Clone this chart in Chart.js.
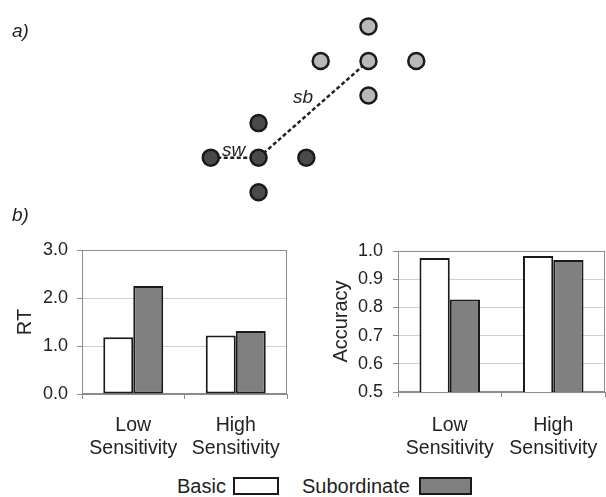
<!DOCTYPE html>
<html>
<head>
<meta charset="utf-8">
<script src="https://cdn.jsdelivr.net/npm/chart.js@4.4.0/dist/chart.umd.min.js"></script>
<style>
  body { margin: 0; background: #fff; width: 606px; height: 497px; position: relative; overflow: hidden;
         font-family: "Liberation Sans", Arial, sans-serif; color: #222; }
  canvas { position: absolute; }
  .lbl { position: absolute; font-style: italic; font-size: 19px; line-height: 19px; white-space: nowrap; }
  .leg { position: absolute; font-size: 20px; line-height: 20px; white-space: nowrap; }
  .box { position: absolute; box-sizing: border-box; border: 2px solid #1a1a1a; height: 18px; top: 477px; }
</style>
</head>
<body>
<canvas id="dots" width="606" height="230" style="left:0;top:0"></canvas>
<canvas id="rtChart" width="300" height="240" style="left:0;top:230px"></canvas>
<canvas id="accChart" width="306" height="240" style="left:300px;top:230px"></canvas>

<div class="lbl" style="left:12px;top:21px">a)</div>
<div class="lbl" style="left:12px;top:205px">b)</div>
<div class="lbl" style="left:222px;top:140px">sw</div>
<div class="lbl" style="left:293px;top:87px">sb</div>

<div class="leg" style="left:177px;top:476px">Basic</div>
<div class="box" style="left:233px;width:46px;background:#fff"></div>
<div class="leg" style="left:302px;top:476px">Subordinate</div>
<div class="box" style="left:419px;width:53px;background:#808080"></div>

<script>
// panel a) - stimulus layout (units = dot spacing)
const darkX = [0, -1, 0, 1, 0];
const darkY = [1, 0, 0, 0, -1];
const lightX = [2.3, 1.3, 2.3, 3.3, 2.3];
const lightY = [3.8, 2.8, 2.8, 2.8, 1.8];
const swX = [-1, 0], swY = [0, 0];
const sbX = [0, 2.3], sbY = [0, 2.8];

// panel b) - bar data
const categories = [['Low', 'Sensitivity'], ['High', 'Sensitivity']];
const rtBasic = [1.18, 1.22];
const rtSub = [2.25, 1.31];
const accBasic = [0.975, 0.982];
const accSub = [0.828, 0.968];

Chart.defaults.font.family = '"Liberation Sans", Arial, sans-serif';
Chart.defaults.color = '#222';

function pairs(xs, ys) {
    return xs.map((x, i) => ({ x: x, y: ys[i] }));
}

const dotStyle = { borderColor: '#1a1a1a', borderWidth: 2.5, pointRadius: 8, showLine: false, order: 1 };
const dashStyle = { borderColor: '#222', borderWidth: 2.5, borderDash: [4, 2.5], pointRadius: 0, showLine: true, order: 2 };

new Chart(document.getElementById('dots'), {
    type: 'scatter',
    data: {
        datasets: [
            Object.assign({ data: pairs(swX, swY) }, dashStyle),
            Object.assign({ data: pairs(sbX, sbY) }, dashStyle),
            Object.assign({ data: pairs(lightX, lightY), backgroundColor: '#b8b8b8' }, dotStyle),
            Object.assign({ data: pairs(darkX, darkY), backgroundColor: '#4a4a4a' }, dotStyle)
        ]
    },
    options: {
        responsive: false,
        animation: false,
        layout: { padding: 0 },
        plugins: { legend: { display: false }, tooltip: { enabled: false } },
        scales: {
            x: { type: 'linear', display: false, min: -5.19, max: 7.05 },
            y: { type: 'linear', display: false, min: -1.79, max: 4.26 }
        }
    }
});

// grey frame round the plot area
const framePlugin = {
    id: 'frame',
    beforeDatasetsDraw(chart) {
        const { ctx, chartArea: a } = chart;
        ctx.save();
        ctx.strokeStyle = '#8c8c8c';
        ctx.lineWidth = 1;
        ctx.strokeRect(a.left + 0.5, a.top + 0.5, a.width - 1, a.height - 1);
        ctx.restore();
    }
};

function barChart(id, basic, sub, o) {
    return new Chart(document.getElementById(id), {
        type: 'bar',
        data: {
            labels: categories,
            datasets: [
                { label: 'Basic', data: basic, backgroundColor: '#ffffff' },
                { label: 'Subordinate', data: sub, backgroundColor: '#808080' }
            ]
        },
        options: {
            responsive: false,
            animation: false,
            layout: { padding: { top: o.top, right: o.right, left: 0, bottom: 0 } },
            datasets: { bar: { borderColor: '#1a1a1a', borderWidth: 2, borderSkipped: false,
                               categoryPercentage: 0.585, barPercentage: 1 } },
            plugins: { legend: { display: false }, tooltip: { enabled: false } },
            scales: {
                x: {
                    afterFit: s => { s.height = o.xHeight; s.paddingLeft = 0; s.paddingRight = 0; },
                    grid: { offset: true, drawOnChartArea: false, tickLength: 5, tickColor: '#8c8c8c' },
                    border: { color: '#8c8c8c' },
                    ticks: { padding: o.xPad, font: { size: 19.5 }, maxRotation: 0, autoSkip: false }
                },
                y: {
                    min: o.min, max: o.max,
                    afterFit: s => { s.width = o.yWidth; },
                    grid: { color: '#d0d0d0', tickLength: 5, tickColor: '#8c8c8c' },
                    border: { color: '#8c8c8c' },
                    ticks: { stepSize: o.step, padding: o.yPad, font: { size: 18 },
                             callback: v => v.toFixed(1) },
                    title: { display: true, text: o.title, font: { size: 20 },
                             padding: { top: o.titlePad, bottom: 0 } }
                }
            }
        },
        plugins: [framePlugin]
    });
}

barChart('rtChart', rtBasic, rtSub, {
    top: 20, right: 13, xHeight: 76, yWidth: 82, xPad: 15, yPad: 9,
    min: 0, max: 3, step: 1, title: 'RT', titlePad: 13.5
});
barChart('accChart', accBasic, accSub, {
    top: 21, right: 1, xHeight: 78, yWidth: 98, xPad: 17, yPad: 10,
    min: 0.5, max: 1.0, step: 0.1, title: 'Accuracy', titlePad: 29.5
});
</script>
</body>
</html>
